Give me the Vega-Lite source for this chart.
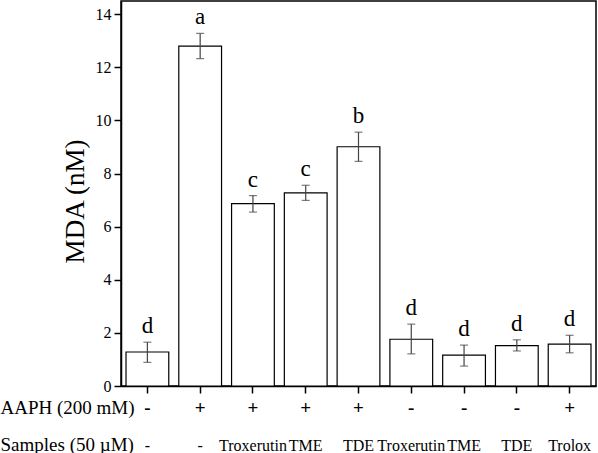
{
  "$schema": "https://vega.github.io/schema/vega-lite/v6.json",
  "width": 475,
  "height": 385,
  "autosize": {"type": "none"},
  "padding": {"left": 121, "top": 1, "right": 2, "bottom": 67},
  "background": "white",
  "config": {
    "view": {"stroke": "black", "strokeWidth": 1.5},
    "font": "Liberation Serif",
    "axis": {
      "grid": false,
      "domainColor": "black",
      "tickColor": "black",
      "labelColor": "black",
      "titleColor": "black",
      "labelFont": "Liberation Serif",
      "titleFont": "Liberation Serif",
      "titleFontWeight": "normal"
    }
  },
  "data": {
    "values": [
      {"key": "-|-", "mda": 1.28, "lo": 0.89, "hi": 1.65, "letter": "d"},
      {"key": "+|-", "mda": 12.8, "lo": 12.33, "hi": 13.28, "letter": "a"},
      {"key": "+|Troxerutin", "mda": 6.87, "lo": 6.55, "hi": 7.17, "letter": "c"},
      {"key": "+|TME", "mda": 7.27, "lo": 6.99, "hi": 7.56, "letter": "c"},
      {"key": "+|TDE", "mda": 9.01, "lo": 8.46, "hi": 9.56, "letter": "b"},
      {"key": "-|Troxerutin", "mda": 1.76, "lo": 1.21, "hi": 2.33, "letter": "d"},
      {"key": "-|TME", "mda": 1.16, "lo": 0.75, "hi": 1.54, "letter": "d"},
      {"key": "-|TDE", "mda": 1.52, "lo": 1.32, "hi": 1.74, "letter": "d"},
      {"key": "+|Trolox", "mda": 1.58, "lo": 1.25, "hi": 1.91, "letter": "d"}
    ]
  },
  "layer": [
    {
      "mark": {"type": "bar", "fill": "white", "stroke": "black", "strokeWidth": 1.2},
      "encoding": {
        "x": {
          "field": "key", "type": "nominal", "sort": null,
          "scale": {"paddingInner": 0.19, "paddingOuter": 0.095},
          "axis": {
            "orient": "bottom",
            "labelExpr": "split(datum.value, '|')[0]",
            "labelAngle": 0,
            "labelOverlap": false,
            "labelFont": "Liberation Serif",
            "labelFontSize": 19,
            "labelFontWeight": "bold",
            "labelBaseline": "alphabetic",
            "labelPadding": 20,
            "tickSize": 7,
            "tickWidth": 1.5,
            "domainWidth": 1.5,
            "title": "AAPH (200 mM)",
            "titleFont": "Liberation Serif",
            "titleX": -121,
            "titleY": 27,
            "titleAlign": "left",
            "titleBaseline": "alphabetic",
            "titleFontSize": 19,
            "titleFontWeight": "normal",
            "titleAngle": 0
          }
        },
        "y": {
          "field": "mda", "type": "quantitative",
          "scale": {"domain": [0, 14.5], "nice": false},
          "axis": {
            "values": [0, 2, 4, 6, 8, 10, 12, 14],
            "labelFont": "Liberation Serif",
            "labelFontSize": 16,
            "tickSize": 7,
            "tickWidth": 1.5,
            "domainWidth": 1.5,
            "labelPadding": 3,
            "title": "MDA (nM)",
            "titleFont": "Liberation Serif",
            "titleFontWeight": "normal",
            "titleFontSize": 27,
            "titlePadding": 6,
            "titleY": 200
          }
        }
      }
    },
    {
      "mark": {"type": "rule", "color": "#444444", "strokeWidth": 1.2},
      "encoding": {
        "x": {"field": "key", "type": "nominal", "sort": null, "axis": null},
        "y": {"field": "lo", "type": "quantitative"},
        "y2": {"field": "hi"}
      }
    },
    {
      "mark": {"type": "tick", "color": "#444444", "size": 8, "thickness": 1.2},
      "encoding": {
        "x": {"field": "key", "type": "nominal", "sort": null, "axis": null},
        "y": {"field": "lo", "type": "quantitative"}
      }
    },
    {
      "mark": {"type": "tick", "color": "#444444", "size": 8, "thickness": 1.2},
      "encoding": {
        "x": {"field": "key", "type": "nominal", "sort": null, "axis": null},
        "y": {"field": "hi", "type": "quantitative"}
      }
    },
    {
      "mark": {"type": "text", "font": "Liberation Serif", "fontSize": 23, "baseline": "alphabetic", "dy": -9, "color": "black"},
      "encoding": {
        "x": {
          "field": "key", "type": "nominal", "sort": null,
          "axis": {
            "orient": "bottom",
            "labelExpr": "split(datum.value, '|')[1]",
            "labelAngle": 0,
            "labelOverlap": false,
            "labelFont": "Liberation Serif",
            "labelFontSize": 16,
            "labelBaseline": "alphabetic",
            "labelPadding": 64,
            "ticks": false,
            "tickSize": 0,
            "domain": false,
            "title": "Samples (50 µM)",
            "titleFont": "Liberation Serif",
            "titleFontWeight": "normal",
            "titleX": -121,
            "titleY": 64,
            "titleAlign": "left",
            "titleBaseline": "alphabetic",
            "titleFontSize": 19,
            "titleAngle": 0
          }
        },
        "y": {"field": "hi", "type": "quantitative"},
        "text": {"field": "letter"}
      }
    }
  ],
  "resolve": {"axis": {"x": "independent"}}
}
